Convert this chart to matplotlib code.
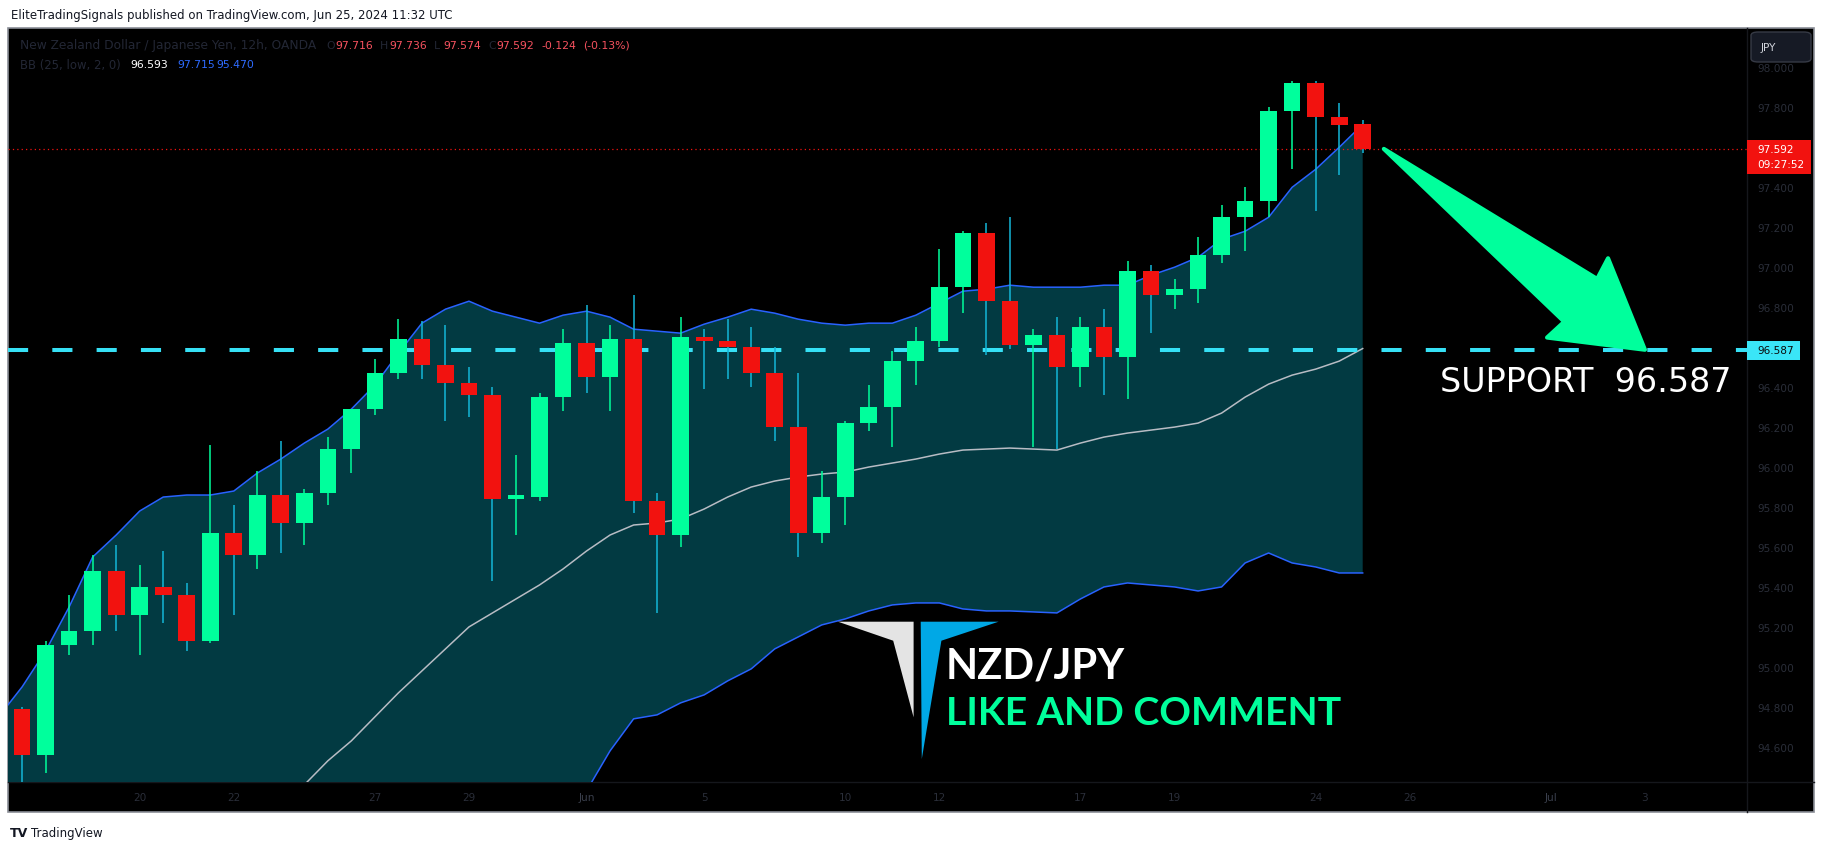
import numpy as np
import matplotlib.pyplot as plt
from matplotlib.patches import Rectangle, Polygon, FancyBboxPatch
from matplotlib.lines import Line2D

W, H = 1826, 853

# NZD/JPY 12h candles
opens = [94.79, 94.56, 95.11, 95.18, 95.48, 95.26, 95.40, 95.36, 95.13, 95.67,
         95.56, 95.86, 95.72, 95.87, 96.09, 96.29, 96.47, 96.64, 96.51, 96.42,
         96.36, 95.84, 95.85, 96.35, 96.62, 96.45, 96.64, 95.83, 95.66, 96.65,
         96.63, 96.60, 96.47, 96.20, 95.67, 95.85, 96.22, 96.30, 96.53, 96.63,
         96.90, 97.17, 96.83, 96.61, 96.66, 96.50, 96.70, 96.55, 96.98, 96.86,
         96.89, 97.06, 97.25, 97.33, 97.78, 97.92, 97.75, 97.716]
highs = [94.80, 95.13, 95.36, 95.56, 95.61, 95.51, 95.58, 95.42, 96.11, 95.81,
         95.98, 96.13, 95.89, 96.15, 96.29, 96.54, 96.74, 96.73, 96.71, 96.50,
         96.40, 96.06, 96.37, 96.69, 96.81, 96.71, 96.86, 95.87, 96.75, 96.69,
         96.74, 96.70, 96.60, 96.47, 95.98, 96.23, 96.41, 96.58, 96.70, 97.09,
         97.18, 97.22, 97.25, 96.69, 96.75, 96.75, 96.79, 97.03, 97.01, 96.94,
         97.15, 97.31, 97.40, 97.80, 97.93, 97.93, 97.82, 97.736]
lows = [94.40, 94.47, 95.06, 95.11, 95.18, 95.06, 95.22, 95.08, 95.12, 95.26,
        95.49, 95.57, 95.61, 95.81, 95.97, 96.26, 96.44, 96.44, 96.23, 96.25,
        95.43, 95.66, 95.83, 96.28, 96.37, 96.28, 95.77, 95.27, 95.60, 96.39,
        96.44, 96.40, 96.13, 95.55, 95.62, 95.71, 96.18, 96.10, 96.41, 96.60,
        96.77, 96.56, 96.59, 96.10, 96.09, 96.40, 96.36, 96.34, 96.67, 96.79,
        96.82, 97.02, 97.08, 97.25, 97.49, 97.28, 97.46, 97.574]
closes = [94.56, 95.11, 95.18, 95.48, 95.26, 95.40, 95.36, 95.13, 95.67, 95.56,
          95.86, 95.72, 95.87, 96.09, 96.29, 96.47, 96.64, 96.51, 96.42, 96.36,
          95.84, 95.86, 96.35, 96.62, 96.45, 96.64, 95.83, 95.66, 96.65, 96.63,
          96.60, 96.47, 96.20, 95.67, 95.85, 96.22, 96.30, 96.53, 96.63, 96.90,
          97.17, 96.83, 96.61, 96.66, 96.50, 96.70, 96.55, 96.98, 96.86, 96.89,
          97.06, 97.25, 97.33, 97.78, 97.92, 97.75, 97.71, 97.592]

# Bollinger bands (25, low, 2) - one bar more on the left
band_x = list(range(-1, 58))
bb_upper = [94.75, 94.90, 95.08, 95.30, 95.55, 95.66, 95.78, 95.85, 95.86, 95.86,
            95.88, 95.97, 96.04, 96.12, 96.19, 96.29, 96.41, 96.57, 96.72, 96.79,
            96.83, 96.78, 96.75, 96.72, 96.76, 96.78, 96.75, 96.69, 96.68, 96.67,
            96.715, 96.75, 96.79, 96.77, 96.74, 96.72, 96.71, 96.72, 96.72, 96.76,
            96.82, 96.88, 96.89, 96.91, 96.90, 96.90, 96.90, 96.91, 96.91, 96.96,
            97.00, 97.05, 97.14, 97.18, 97.25, 97.40, 97.49, 97.60, 97.715]
bb_basis = [92.95, 93.05, 93.15, 93.27, 93.39, 93.51, 93.63, 93.75, 93.86, 93.98,
            94.09, 94.19, 94.30, 94.41, 94.53, 94.63, 94.75, 94.87, 94.98, 95.09,
            95.20, 95.27, 95.34, 95.41, 95.49, 95.58, 95.66, 95.71, 95.72, 95.74,
            95.79, 95.85, 95.90, 95.93, 95.95, 95.965, 95.975, 96.00, 96.02, 96.04,
            96.065, 96.085, 96.09, 96.095, 96.09, 96.085, 96.12, 96.15, 96.17, 96.185,
            96.20, 96.22, 96.27, 96.35, 96.415, 96.46, 96.49, 96.53, 96.593]
bb_lower = [91.2, 91.2, 91.2, 91.0, 91.0, 91.1, 91.3, 91.4, 91.7, 91.9,
            92.1, 92.2, 92.4, 92.7, 92.9, 93.0, 93.1, 93.2, 93.3, 93.4,
            93.6, 93.8, 94.0, 94.1, 94.25, 94.38, 94.58, 94.74, 94.76, 94.82,
            94.86, 94.93, 94.99, 95.09, 95.15, 95.21, 95.24, 95.28, 95.31, 95.32,
            95.32, 95.29, 95.28, 95.28, 95.275, 95.27, 95.34, 95.40, 95.42, 95.41,
            95.40, 95.38, 95.40, 95.52, 95.57, 95.52, 95.50, 95.47, 95.47]

time_pos = [5, 9, 15, 19, 24, 29, 35, 39, 45, 49, 55, 59, 65, 69]
time_lab = ['20', '22', '27', '29', 'Jun', '5', '10', '12', '17', '19', '24', '26', 'Jul', '3']
price_ticks = [94.6, 94.8, 95.0, 95.2, 95.4, 95.6, 95.8, 96.0, 96.2, 96.4,
               96.6, 96.8, 97.0, 97.2, 97.4, 97.6, 97.8, 98.0]

last_price = 97.592
support = 96.587

GREEN = '#00ff9c'
RED = '#f2120f'
WICK_DN = '#14b6d8'
TEAL = '#023a42'
BLUE = '#2962ff'
AXCOL = '#2a2e39'


def fx(x):
    return x / W


def fy(y):
    return 1 - y / H


fig = plt.figure(figsize=(W / 100, H / 100), dpi=100)
fig.patch.set_facecolor('white')

# black chart frame
frame = Rectangle((fx(8), fy(813)), (1814 - 8) / W, (813 - 29) / H, transform=fig.transFigure,
                  facecolor='black', edgecolor='#8a8d96', lw=1.2, zorder=-2)
fig.add_artist(frame)
fig.add_artist(Line2D([fx(1747), fx(1747)], [fy(29), fy(813)], color='#15171c', lw=1, zorder=-1))
fig.add_artist(Line2D([fx(8), fx(1814)], [fy(783), fy(783)], color='#15171c', lw=1, zorder=-1))

ax = fig.add_axes([fx(8), fy(783), (1747 - 8) / W, (783 - 29) / H])
ax.set_facecolor('none')
for s in ax.spines.values():
    s.set_visible(False)
ax.set_xlim(-0.6, 73.34)
ax.set_ylim(94.424, 98.197)

# bollinger bands
ax.fill_between(band_x, bb_lower, bb_upper, color=TEAL, lw=0, zorder=0)
ax.plot(band_x, bb_upper, color=BLUE, lw=1.1, zorder=1)
ax.plot(band_x, bb_lower, color=BLUE, lw=1.1, zorder=1)
ax.plot(band_x, bb_basis, color='#b8bcc4', lw=1.1, zorder=1)

# support + last price lines
ax.axhline(support, color='#36e0f5', lw=2.9, dashes=(5, 6), zorder=2)
ax.axhline(last_price, color=RED, lw=0.9, ls=(0, (1, 2.5)), zorder=2)

# candles
o = np.array(opens)
h = np.array(highs)
l = np.array(lows)
c = np.array(closes)
x = np.arange(len(o))
up = c >= o
ax.vlines(x, l, h, colors=np.where(up, GREEN, WICK_DN), lw=1.1, zorder=3)
ax.bar(x, np.maximum(np.abs(c - o), 0.008), bottom=np.minimum(o, c), width=0.71,
       color=np.where(up, GREEN, RED), lw=0, zorder=4)

# axes ticks
ax.yaxis.tick_right()
ax.set_yticks(price_ticks)
ax.set_yticklabels([f'{v:.3f}' for v in price_ticks])
ax.tick_params(axis='y', length=0, pad=7.7, labelsize=7.6, labelcolor=AXCOL)
ax.set_xticks(time_pos)
ax.set_xticklabels(time_lab)
ax.tick_params(axis='x', length=0, pad=7.5, labelsize=7.6, labelcolor=AXCOL)
for t in ax.get_xticklabels():
    if t.get_text() in ('Jun', 'Jul'):
        t.set_color('#3a3f4c')

# down arrow from last price to support, tapered shaft
p0 = ax.transData.transform((57.9, last_price))
p1 = ax.transData.transform((69.0, support))
d = p1 - p0
L = np.hypot(*d)
u = d / L
n = np.array([-u[1], u[0]])
head_len, head_w, shaft_w = 85, 50, 27
base = L - head_len
pts = [p0,
       p0 + u * (base + 4) + n * shaft_w,
       p0 + u * base + n * head_w,
       p1,
       p0 + u * base - n * head_w,
       p0 + u * (base + 4) - n * shaft_w]
pts = ax.transData.inverted().transform(np.array(pts))
ax.add_patch(Polygon(pts, closed=True, facecolor=GREEN, edgecolor=GREEN, lw=3,
                     joinstyle='round', zorder=6))

fig.text(fx(1440), fy(391.7), 'SUPPORT  96.587', fontsize=24, color='white',
         va='baseline', ha='left')

# logo + labels
fig.add_artist(Polygon([(fx(838), fy(622.7)), (fx(913.6), fy(622.7)), (fx(913.6), fy(718.3)),
                        (fx(893.2), fy(641.7))], closed=True, transform=fig.transFigure,
                       facecolor='#e4e4e4', lw=0, zorder=5))
fig.add_artist(Polygon([(fx(920.7), fy(622.7)), (fx(998.6), fy(622.7)), (fx(941.4), fy(641.7)),
                        (fx(921.8), fy(760))], closed=True, transform=fig.transFigure,
                       facecolor='#00a8e6', lw=0, zorder=5))
fig.text(fx(946), fy(678.3), 'NZD/JPY', fontsize=30, fontfamily='Lato', fontweight='bold',
         color='white', va='baseline')
fig.text(fx(946), fy(725), 'LIKE AND COMMENT', fontsize=28.3, fontfamily='Lato', fontweight='bold',
         color=GREEN, va='baseline')

# price labels on the axis
fig.add_artist(Rectangle((fx(1747), fy(175)), 64 / W, 34 / H, transform=fig.transFigure,
                         facecolor=RED, lw=0, zorder=5))
fig.text(fx(1757.5), fy(150), f'{last_price:.3f}', fontsize=7.6, color='white', va='center', zorder=6)
fig.text(fx(1757.5), fy(165), '09:27:52', fontsize=7.6, color='white', va='center', zorder=6)
fig.add_artist(Rectangle((fx(1747), fy(361)), 53 / W, 19 / H, transform=fig.transFigure,
                         facecolor='#3ae5f7', lw=0, zorder=5))
fig.text(fx(1757.5), fy(351), f'{support:.3f}', fontsize=7.6, color='#0b0b0b', va='center', zorder=6)
fig.add_artist(FancyBboxPatch((fx(1751), fy(63)), 60 / W, 30 / H, boxstyle='round,pad=0,rounding_size=0.004',
                              transform=fig.transFigure, facecolor='#161a25', edgecolor='#363a45',
                              lw=1, zorder=5))
fig.text(fx(1761), fy(48), 'JPY', fontsize=7.6, color='#d1d4dc', va='center', zorder=6)

# legend header
dark = '#232735'
lab_red = '#f7525f'
fig.text(fx(20), fy(46), 'New Zealand Dollar / Japanese Yen, 12h, OANDA', fontsize=8.8, color=dark, va='center')
for xx, txt, col in [(326, 'O', dark), (335, '97.716', lab_red), (380, 'H', dark), (389, '97.736', lab_red),
                     (434, 'L', dark), (443, '97.574', lab_red), (488, 'C', dark), (496.5, '97.592', lab_red),
                     (541, '-0.124', lab_red), (583, '(-0.13%)', lab_red)]:
    fig.text(fx(xx), fy(46), txt, fontsize=7.8, color=col, va='center')
fig.text(fx(20), fy(65), 'BB (25, low, 2, 0)', fontsize=8.35, color=dark, va='center')
fig.text(fx(130), fy(65), '96.593', fontsize=7.8, color='white', va='center')
fig.text(fx(177), fy(65), '97.715', fontsize=7.8, color='#2e6bff', va='center')
fig.text(fx(216.5), fy(65), '95.470', fontsize=7.8, color='#2e6bff', va='center')

fig.text(fx(11), fy(16), 'EliteTradingSignals published on TradingView.com, Jun 25, 2024 11:32 UTC',
         fontsize=8.5, color='#131722', va='center')
fig.text(fx(10), fy(834), 'TV', fontsize=9, fontweight='heavy', color='#131722', va='center')
fig.text(fx(31), fy(834), 'TradingView', fontsize=8.5, color='#131722', va='center')

fig.savefig('out.png', dpi=100, facecolor=fig.get_facecolor())
